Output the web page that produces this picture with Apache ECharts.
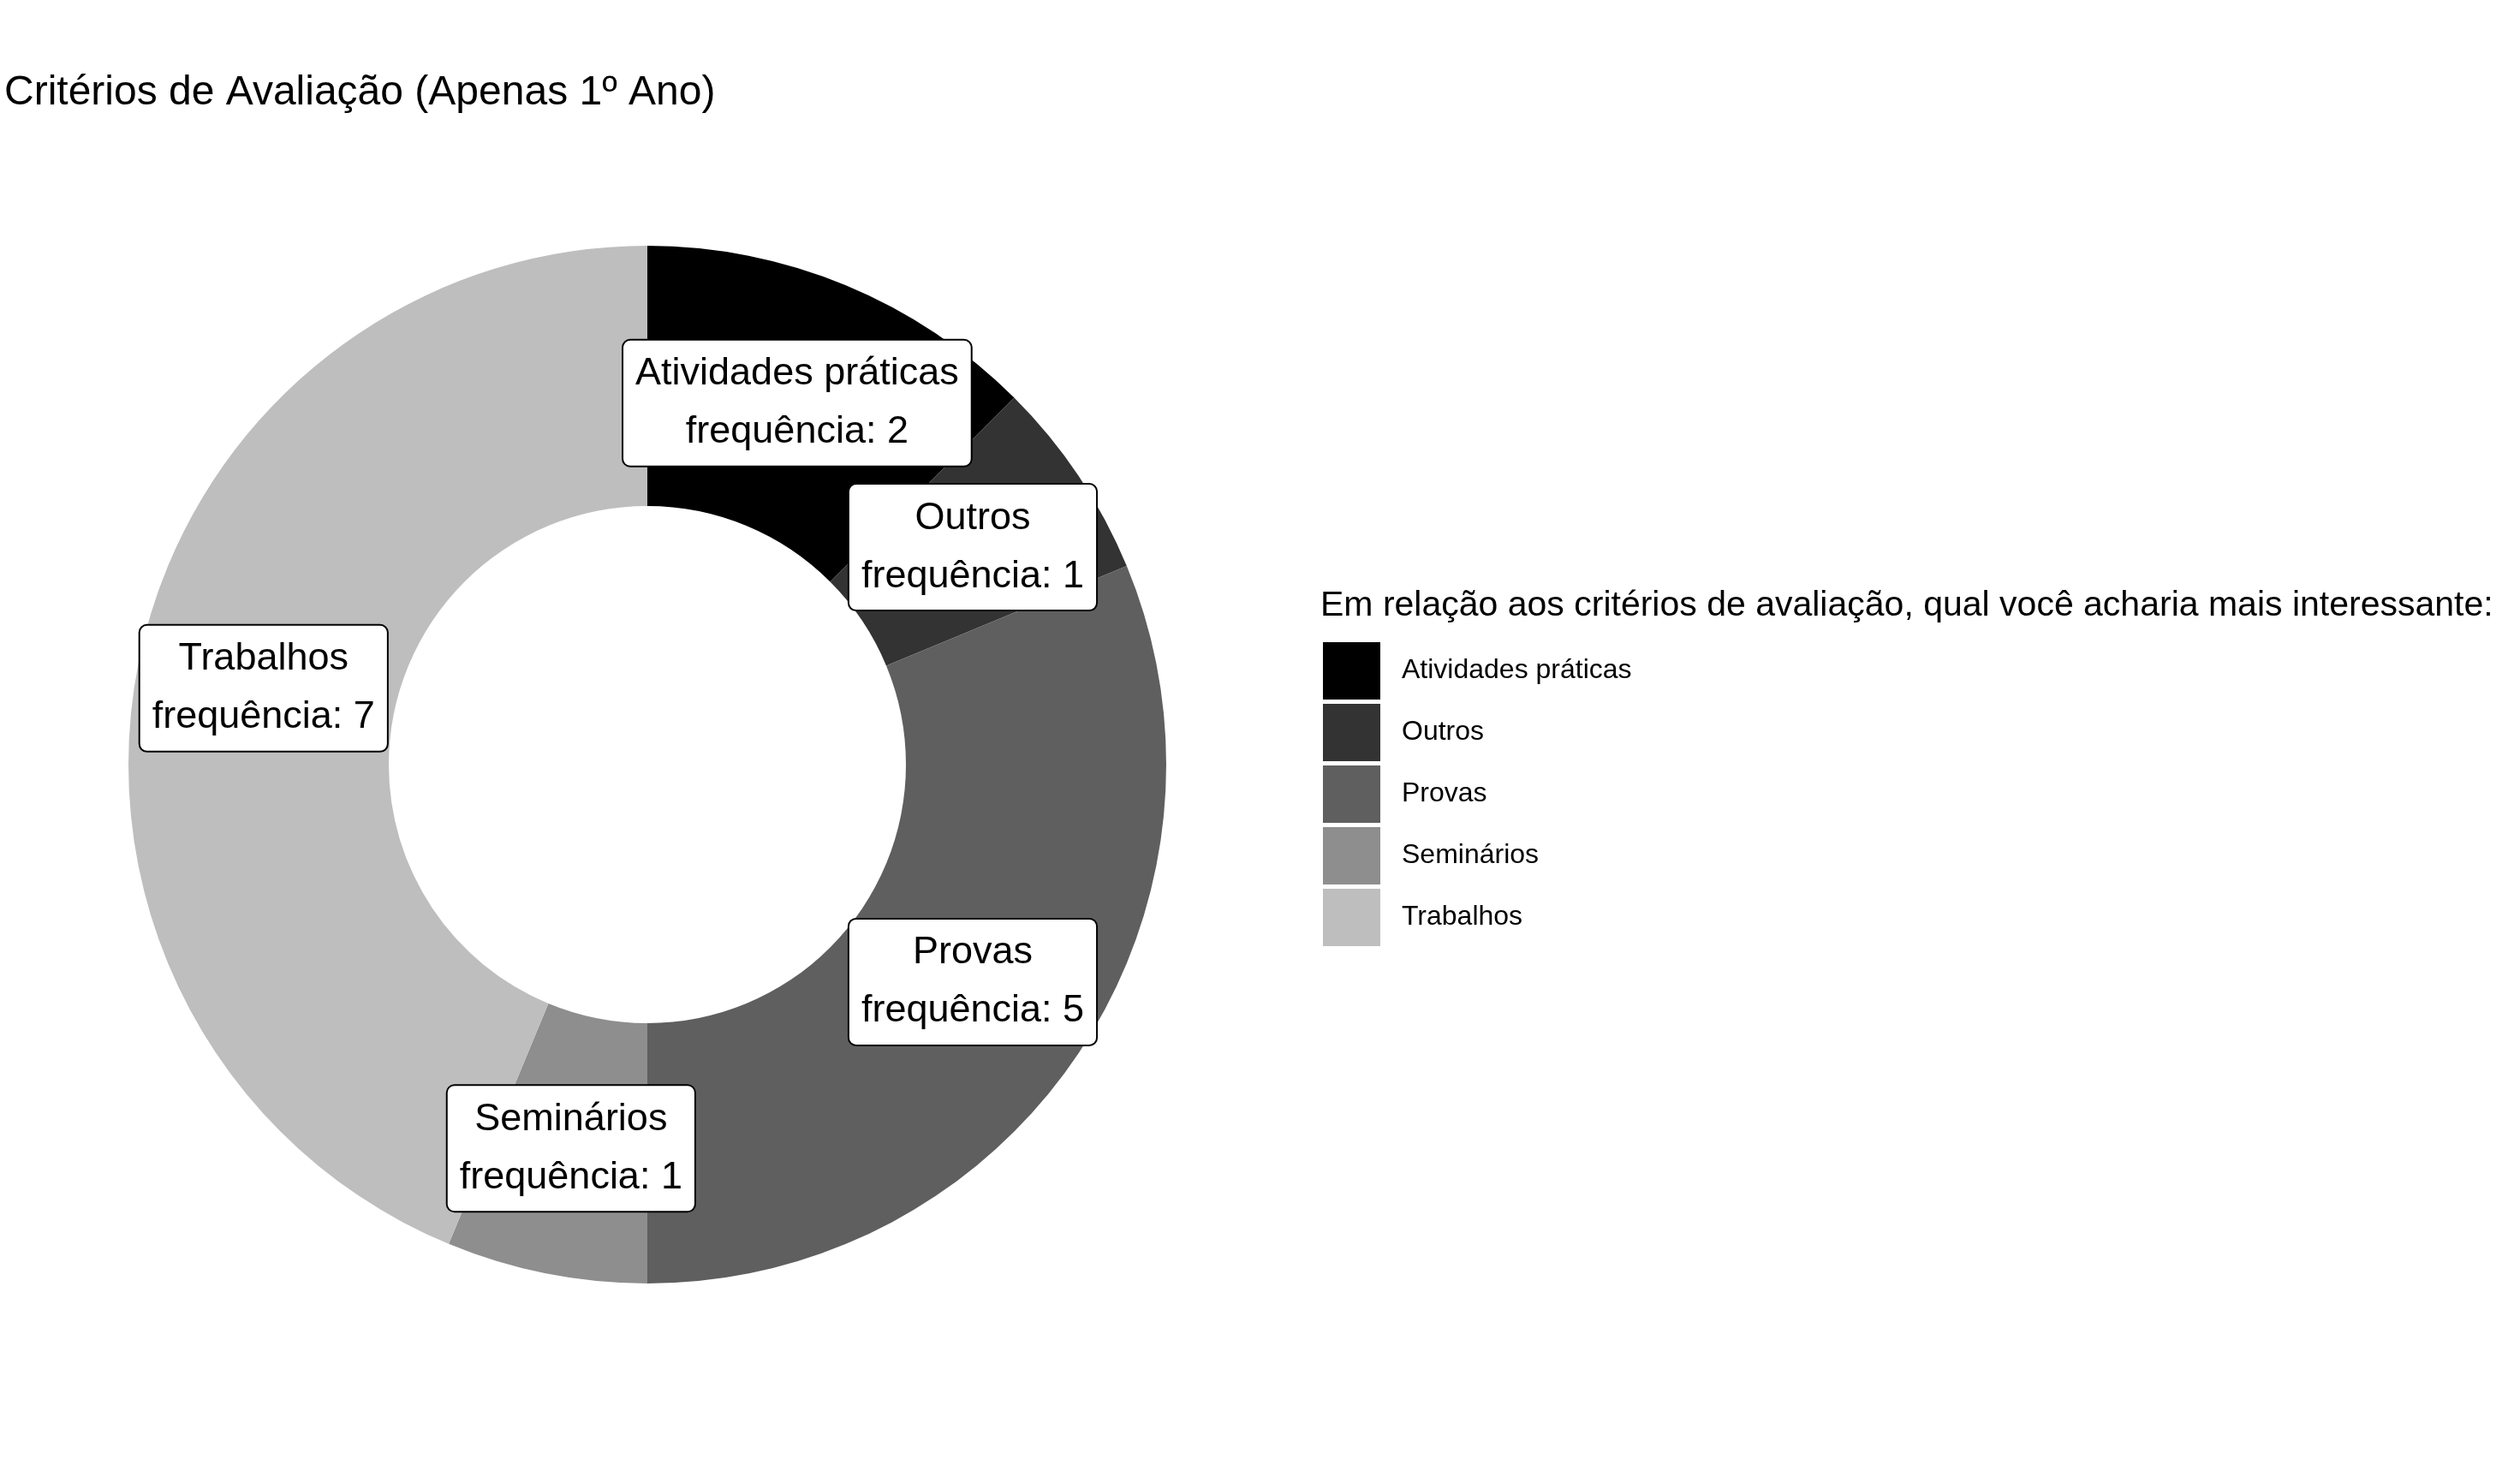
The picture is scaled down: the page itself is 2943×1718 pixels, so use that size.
<!DOCTYPE html>
<html><head><meta charset="utf-8">
<script src="https://cdn.jsdelivr.net/npm/echarts@6/dist/echarts.min.js"></script>
<style>html,body{margin:0;padding:0;background:#fff}#c{width:2943px;height:1718px}</style>
</head><body><div id="c"></div>
<script>
const categories = ["Atividades práticas","Outros","Provas","Seminários","Trabalhos"];
const values = [2,1,5,1,7];
const colors = ["#000000","#333333","#5f5f5f","#8e8e8e","#bebebe"];
const chart = echarts.init(document.getElementById('c'));
const F = '"Liberation Sans", Arial, sans-serif';
chart.setOption({
  backgroundColor:'#fff',
  animation:false,
  title:[
    {text:'Critérios de Avaliação (Apenas 1º Ano)',left:0,top:80,textStyle:{fontFamily:F,fontSize:48,fontWeight:'normal',color:'#000'}},
    {text:'Em relação aos critérios de avaliação, qual você acharia mais interessante:',left:1537,top:682,textStyle:{fontFamily:F,fontSize:41,fontWeight:'normal',color:'#000'}}
  ],
  legend:{orient:'vertical',left:1540,top:745,itemWidth:67,itemHeight:67,itemGap:5,icon:'rect',
    textStyle:{fontFamily:F,fontSize:32,color:'#000',padding:[0,0,0,20]},data:categories},
  series:[{type:'pie',center:[756,893],radius:[302,606],startAngle:90,clockwise:true,
    label:{show:true,position:'inside',fontFamily:F,fontSize:45,color:'#000',lineHeight:68,
      backgroundColor:'#fff',borderColor:'#000',borderWidth:2,borderRadius:8,padding:[6,14,4,14],
      formatter:p=>p.name+'\nfrequência: '+p.value},
    labelLine:{show:false},emphasis:{disabled:true},
    data:categories.map((c,i)=>({name:c,value:values[i],itemStyle:{color:colors[i]}}))
  }]
});
</script></body></html>
